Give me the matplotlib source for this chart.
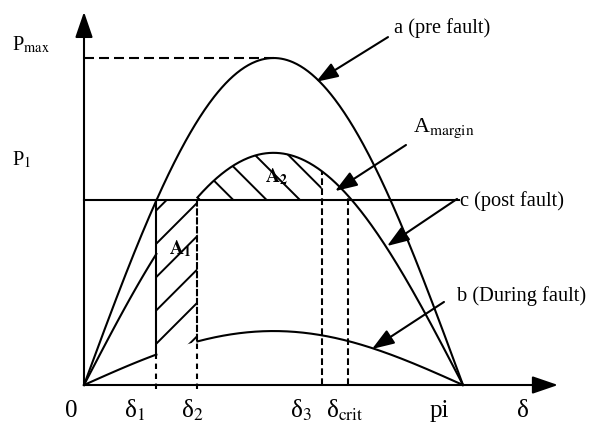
import numpy as np
import matplotlib
matplotlib.use('Agg')
import matplotlib.pyplot as plt

# ---- data (amplitudes relative to Pmax of the pre-fault curve) ----
curve_labels = ['a (pre fault)', 'b (During fault)', 'c (post fault)']
amp_pre = 1.0
amp_during = 0.165
amp_post = 0.71
p_mech = 0.567          # mechanical input power line
pm_line_end = 3.11

angle_labels = ['δ$_1$', 'δ$_2$', 'δ$_3$', 'δ$_{\\mathrm{crit}}$']
delta_1 = 0.60
delta_2 = 0.94
delta_3 = 1.97
delta_crit = 2.19

plt.rcParams['font.family'] = ['Liberation Serif', 'DejaVu Serif']
plt.rcParams['mathtext.fontset'] = 'stix'
plt.rcParams['hatch.linewidth'] = 1.4

DPI = 100
fig = plt.figure(figsize=(592 / DPI, 423 / DPI), dpi=DPI)
ax = fig.add_axes([0, 0, 1, 1])
ax.set_xlim(-0.6963, 4.2109)
ax.set_ylim(-0.1162, 1.1774)
ax.axis('off')

LW = 1.5
full = np.linspace(0, np.pi, 400)
left = np.linspace(0, delta_1, 100)
right = np.linspace(delta_2, np.pi, 300)

# curves
ax.plot(full, amp_pre * np.sin(full), color='k', lw=LW)
for d in (left, right):
    ax.plot(d, amp_post * np.sin(d), color='k', lw=LW)
    ax.plot(d, amp_during * np.sin(d), color='k', lw=LW)

# mechanical power line
ax.plot([0, pm_line_end], [p_mech, p_mech], color='k', lw=LW)

# Pmax dashed line
ax.plot([0, np.pi / 2], [amp_pre, amp_pre], color='k', lw=LW, dashes=(4.8, 2.4))

# vertical lines
b1 = amp_during * np.sin(delta_1)
b2 = amp_during * np.sin(delta_2)
ax.plot([delta_1, delta_1], [b1, p_mech], color='k', lw=LW)
ax.plot([delta_1, delta_1], [-0.012, b1], color='k', lw=LW, dashes=(2.6, 2.2))
ax.plot([delta_2, delta_2], [b2, p_mech], color='k', lw=LW, dashes=(3.5, 0.8))
ax.plot([delta_2, delta_2], [-0.012, b2], color='k', lw=LW, dashes=(2.6, 2.2))
ax.plot([delta_3, delta_3], [0, amp_post * np.sin(delta_3)], color='k', lw=LW, dashes=(3.2, 1.6))
ax.plot([delta_crit, delta_crit], [0, amp_post * np.sin(delta_crit)], color='k', lw=LW, dashes=(3.2, 1.6))

# hatched areas
dA1 = np.linspace(delta_1, delta_2, 60)
ax.fill_between(dA1, amp_during * np.sin(dA1), p_mech, facecolor='none',
                edgecolor='k', hatch='/', linewidth=0)
dA2 = np.linspace(delta_2, delta_3, 120)
ax.fill_between(dA2, p_mech, amp_post * np.sin(dA2), facecolor='none',
                edgecolor='k', hatch='\\', linewidth=0)

# axes arrows
axis_arrow = dict(arrowstyle='-|>,head_length=1.05,head_width=0.36', color='k',
                  lw=LW, shrinkA=0, shrinkB=0, mutation_scale=15)
ax.annotate('', xy=(0, 1.141), xytext=(0, 0), arrowprops=axis_arrow)
ax.annotate('', xy=(3.929, 0), xytext=(0, 0), arrowprops=axis_arrow)

# pointer arrows
ptr = dict(arrowstyle='-|>,head_length=0.9,head_width=0.32', color='k',
           lw=LW, shrinkA=0, shrinkB=0, mutation_scale=15)
ax.annotate('', xy=(1.923, 0.927), xytext=(2.520, 1.064), arrowprops=ptr)
ax.annotate('', xy=(2.081, 0.593), xytext=(2.669, 0.734), arrowprops=ptr)
ax.annotate('', xy=(2.512, 0.425), xytext=(3.092, 0.569), arrowprops=ptr)
ax.annotate('', xy=(2.387, 0.110), xytext=(2.984, 0.254), arrowprops=ptr)

# labels
fs = 14.7
ax.text(2.570, 1.076, curve_labels[0], fontsize=fs, ha='left', va='baseline')
ax.text(3.092, 0.257, curve_labels[1], fontsize=fs, ha='left', va='baseline')
ax.text(3.117, 0.548, curve_labels[2], fontsize=fs, ha='left', va='baseline')
ax.text(2.727, 0.774, 'A$_{\\mathrm{margin}}$', fontsize=15.8, ha='left', va='baseline')
ax.text(1.500, 0.621, '$\\mathbf{A}_\\mathbf{2}$', fontsize=14.1, ha='left', va='baseline')
ax.text(0.705, 0.401, '$\\mathbf{A}_\\mathbf{1}$', fontsize=14.1, ha='left', va='baseline')

ax.text(-0.597, 1.024, 'P$_{\\mathrm{max}}$', fontsize=14.7, ha='left', va='baseline')
ax.text(-0.597, 0.673, 'P$_1$', fontsize=14.7, ha='left', va='baseline')

bfs = 18
base_y = -0.099
ax.text(-0.104, base_y, '0', fontsize=bfs, ha='center', va='baseline')
ax.text(0.332, base_y, angle_labels[0], fontsize=bfs, ha='left', va='baseline')
ax.text(0.804, base_y, angle_labels[1], fontsize=bfs, ha='left', va='baseline')
ax.text(1.708, base_y, angle_labels[2], fontsize=bfs, ha='left', va='baseline')
ax.text(2.006, base_y, angle_labels[3], fontsize=bfs, ha='left', va='baseline')
ax.text(2.868, base_y, 'pi', fontsize=bfs, ha='left', va='baseline')
ax.text(3.589, base_y, 'δ', fontsize=bfs, ha='left', va='baseline')

fig.savefig('out.png', dpi=DPI, facecolor='white')
